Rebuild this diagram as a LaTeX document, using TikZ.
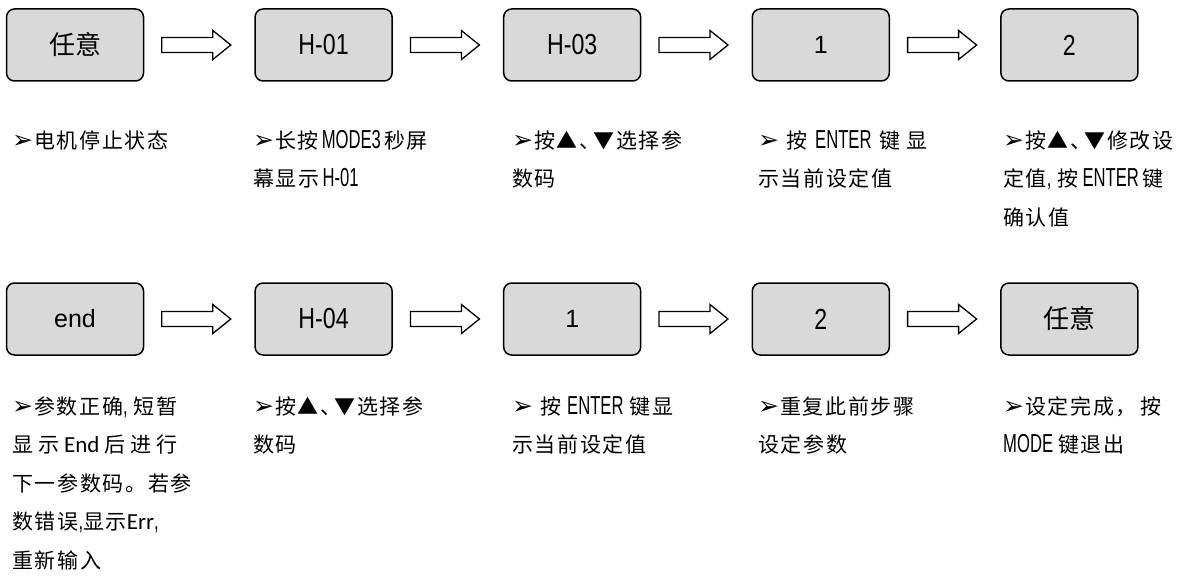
\documentclass[tikz,border=0pt]{standalone}
\usepackage{fontspec}
\setmainfont{Liberation Sans}
\newfontfamily\cjk[LetterSpace=8]{Noto Sans CJK SC}
\newfontfamily\cjkbox{Noto Sans CJK SC}
\newfontfamily\cond[FakeStretch=0.64]{Liberation Sans}
\newfontfamily\condbox[FakeStretch=0.8]{Liberation Sans}
\newfontfamily\dv{DejaVu Sans}
\newfontfamily\carl{Carlito}
\usetikzlibrary{calc}
\definecolor{boxgray}{HTML}{D9D9D9}
\newcommand\Ar{{\dv\fontsize{25}{25}\selectfont ➢}\hspace{1pt}}
\newcommand\lat[1]{{\cond\fontsize{26}{26}\selectfont #1}}
\newcommand\clb[1]{{\carl\fontsize{23}{23}\selectfont #1}}
\newcommand\updown{▲、\hspace{-7pt}▼}
\newcommand\blockarrow[2]{%
  \coordinate (#1-#2-c) at ($(#1.east)!0.5!(#2.west)+(-3,0)$);
  \draw[barrow] ($(#1-#2-c)+(-34.5,-7.5)$) -- ++(51,0) -- ++(0,-7) -- ++(18,14.5)
    -- ++(-18,14.5) -- ++(0,-7) -- ++(-51,0) -- cycle;}
\begin{document}
\begin{tikzpicture}[x=1pt,y=-1pt,
  box/.style={draw=black, line width=1.5pt, fill=boxgray, rounded corners=8pt,
    minimum width=137pt, minimum height=72pt, inner sep=0pt},
  txt/.style={anchor=base west, inner sep=0pt, font={\cjk\fontsize{21}{21}\selectfont}},
  barrow/.style={draw=black, line width=1.3pt, fill=white, line join=miter},
  kfont/.style={font={\cjkbox\fontsize{26}{26}\selectfont}},
  cfont/.style={font={\condbox\fontsize{29}{29}\selectfont}},
  afont/.style={font={\fontsize{25}{25}\selectfont}}]
\useasboundingbox (0,0) rectangle (1189,578);
% row 1
\node[box,kfont] (a1) at (75,45) {任意};
\node[box,cfont] (a2) at (323.6,45) {H-01};
\node[box,cfont] (a3) at (572.2,45) {H-03};
\node[box,afont] (a4) at (820.8,45) {1};
\node[box,cfont] (a5) at (1069.4,45) {2};
% row 2
\node[box,afont] (b1) at (75,319) {end};
\node[box,cfont] (b2) at (323.6,319) {H-04};
\node[box,afont] (b3) at (572.2,319) {1};
\node[box,cfont] (b4) at (820.8,319) {2};
\node[box,kfont] (b5) at (1069.4,319) {任意};
% arrows
\blockarrow{a1}{a2}
\blockarrow{a2}{a3}
\blockarrow{a3}{a4}
\blockarrow{a4}{a5}
\blockarrow{b1}{b2}
\blockarrow{b2}{b3}
\blockarrow{b3}{b4}
\blockarrow{b4}{b5}
% row 1 texts
\node[txt] (t1a) at (12,148) {\Ar 电机停止状态};
\node[txt] (t2a) at (253,148) {\Ar 长按\hspace{3pt}\lat{MODE3}\hspace{3pt}秒屏};
\node[txt] (t2b) at (253,186.5) {幕显示\hspace{3pt}\lat{H-01}};
\node[txt] (t3a) at (512,148) {\Ar 按\updown 选择参};
\node[txt] (t3b) at (512,186.5) {数码};
\node[txt] (t4a) at (758,148) {\Ar\hspace{6pt}按\hspace{8pt}\lat{ENTER}\hspace{8pt}键\hspace{6pt}显};
\node[txt] (t4b) at (758,186.5) {示当前设定值};
\node[txt] (t5a) at (1003,148) {\Ar 按\updown 修改设};
\node[txt] (t5b) at (1003,186.5) {定值\lat{,}\hspace{6pt}按\hspace{4pt}\lat{ENTER}\hspace{4pt}键};
\node[txt] (t5c) at (1003,225) {确认值};
% row 2 texts
\node[txt] (u1a) at (12,414) {\Ar 参数正确\lat{,}\hspace{6pt}短暂};
\node[txt] (u1b) at (12,452.5) {显\hspace{5pt}示\hspace{5pt}\clb{End}\hspace{5pt}后\hspace{5pt}进\hspace{5pt}行};
\node[txt] (u1c) at (12,491) {下一参数码。若参};
\node[txt] (u1d) at (12,529.5) {数错误\lat{,}显示\clb{Err}\lat{,}};
\node[txt] (u1e) at (12,568) {重新输入};
\node[txt] (u2a) at (253,414) {\Ar 按\updown 选择参};
\node[txt] (u2b) at (253,452.5) {数码};
\node[txt] (u3a) at (512,414) {\Ar\hspace{6pt}按\hspace{6pt}\lat{ENTER}\hspace{6pt}键显};
\node[txt] (u3b) at (512,452.5) {示当前设定值};
\node[txt] (u4a) at (758,414) {\Ar 重复此前步骤};
\node[txt] (u4b) at (758,452.5) {设定参数};
\node[txt] (u5a) at (1003,414) {\Ar 设定完成，\hspace{4pt}按};
\node[txt] (u5b) at (1003,452.5) {\lat{MODE}\hspace{5pt}键退出};
\end{tikzpicture}
\end{document}
